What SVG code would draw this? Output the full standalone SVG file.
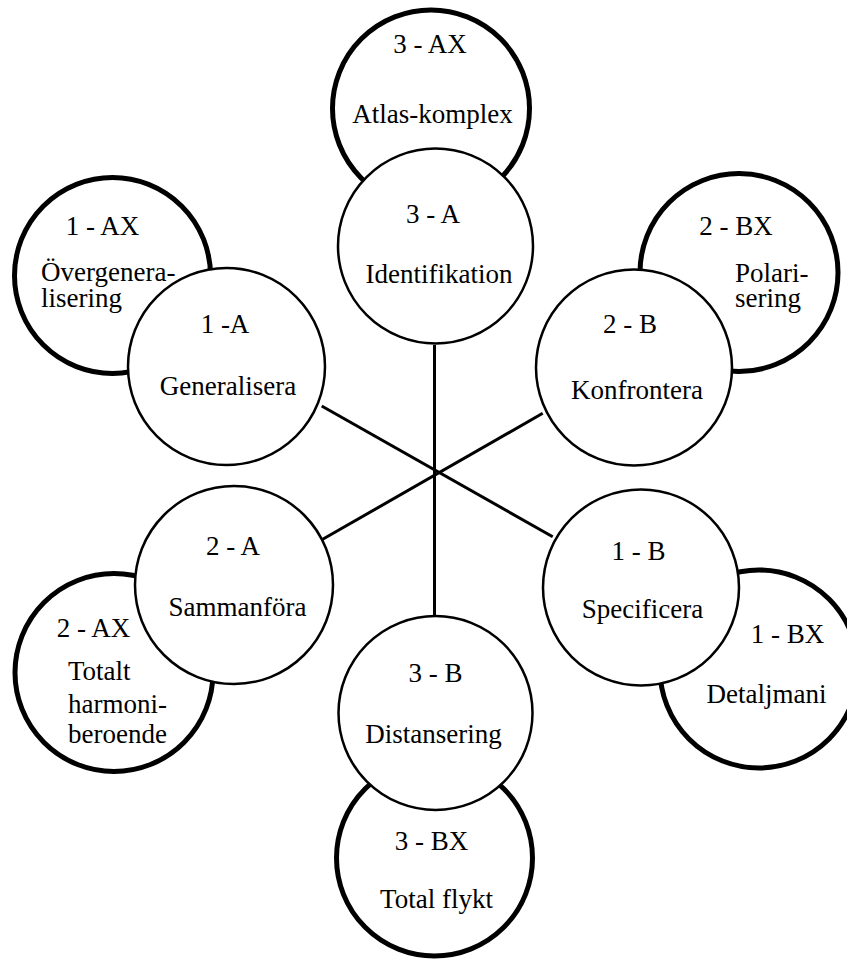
<svg xmlns="http://www.w3.org/2000/svg" width="847" height="962" viewBox="0 0 847 962">
<style>
.outer{fill:#fff;stroke:#000;stroke-width:5}
.inner{fill:#fff;stroke:#000;stroke-width:2.5}
.conn{stroke:#000;stroke-width:3;fill:none}
text{font-family:"Liberation Serif","Times New Roman",serif;font-size:27px;fill:#000}
.m{text-anchor:middle}
</style>
<rect width="847" height="962" fill="#fff"/>
<g id="node-3AX"><circle class="outer" cx="431" cy="108.5" r="98.5"/><text class="m" x="430" y="53">3 - AX</text><text class="m" x="432.5" y="123">Atlas-komplex</text></g>
<g id="node-1AX"><circle class="outer" cx="112.5" cy="275.5" r="98"/><text class="m" x="102.5" y="235">1 - AX</text><text x="41" y="281">Övergenera-</text><text x="41" y="307">lisering</text></g>
<g id="node-2BX"><circle class="outer" cx="739" cy="272.5" r="99"/><text class="m" x="736" y="235">2 - BX</text><text x="735" y="282">Polari-</text><text x="735" y="307">sering</text></g>
<g id="node-2AX"><circle class="outer" cx="114" cy="672.5" r="99"/><text class="m" x="93.5" y="637">2 - AX</text><text x="68" y="680">Totalt</text><text x="68" y="713">harmoni-</text><text x="68" y="743">beroende</text></g>
<g id="node-1BX"><circle class="outer" cx="759" cy="669" r="99"/><text class="m" x="787.5" y="643">1 - BX</text><text class="m" x="766.5" y="703">Detaljmani</text></g>
<g id="node-3BX"><circle class="outer" cx="434.5" cy="858" r="98"/><text class="m" x="431.5" y="850">3 - BX</text><text class="m" x="436.5" y="908">Total flykt</text></g>
<g id="connectors">
<line class="conn" x1="434.5" y1="345" x2="434.5" y2="616"/>
<line class="conn" x1="321.7" y1="406" x2="552.7" y2="536.7"/>
<line class="conn" x1="322.7" y1="539.3" x2="542.7" y2="413.3"/>
</g>
<g id="node-3A"><circle class="inner" cx="435.5" cy="246" r="97.5"/><text class="m" x="433" y="223">3 - A</text><text class="m" x="439" y="283">Identifikation</text></g>
<g id="node-1A"><circle class="inner" cx="226.5" cy="366.5" r="98.5"/><text class="m" x="225" y="333">1 -A</text><text class="m" x="228" y="395">Generalisera</text></g>
<g id="node-2B"><circle class="inner" cx="634" cy="367.5" r="98"/><text class="m" x="630" y="333">2 - B</text><text class="m" x="637" y="399">Konfrontera</text></g>
<g id="node-2A"><circle class="inner" cx="234" cy="585" r="99"/><text class="m" x="233" y="555">2 - A</text><text class="m" x="237.5" y="616">Sammanföra</text></g>
<g id="node-1B"><circle class="inner" cx="641" cy="587.5" r="98"/><text class="m" x="638.5" y="560">1 - B</text><text class="m" x="642.5" y="618">Specificera</text></g>
<g id="node-3B"><circle class="inner" cx="435.5" cy="713" r="97"/><text class="m" x="435.5" y="682">3 - B</text><text class="m" x="433.5" y="743">Distansering</text></g>
</svg>
